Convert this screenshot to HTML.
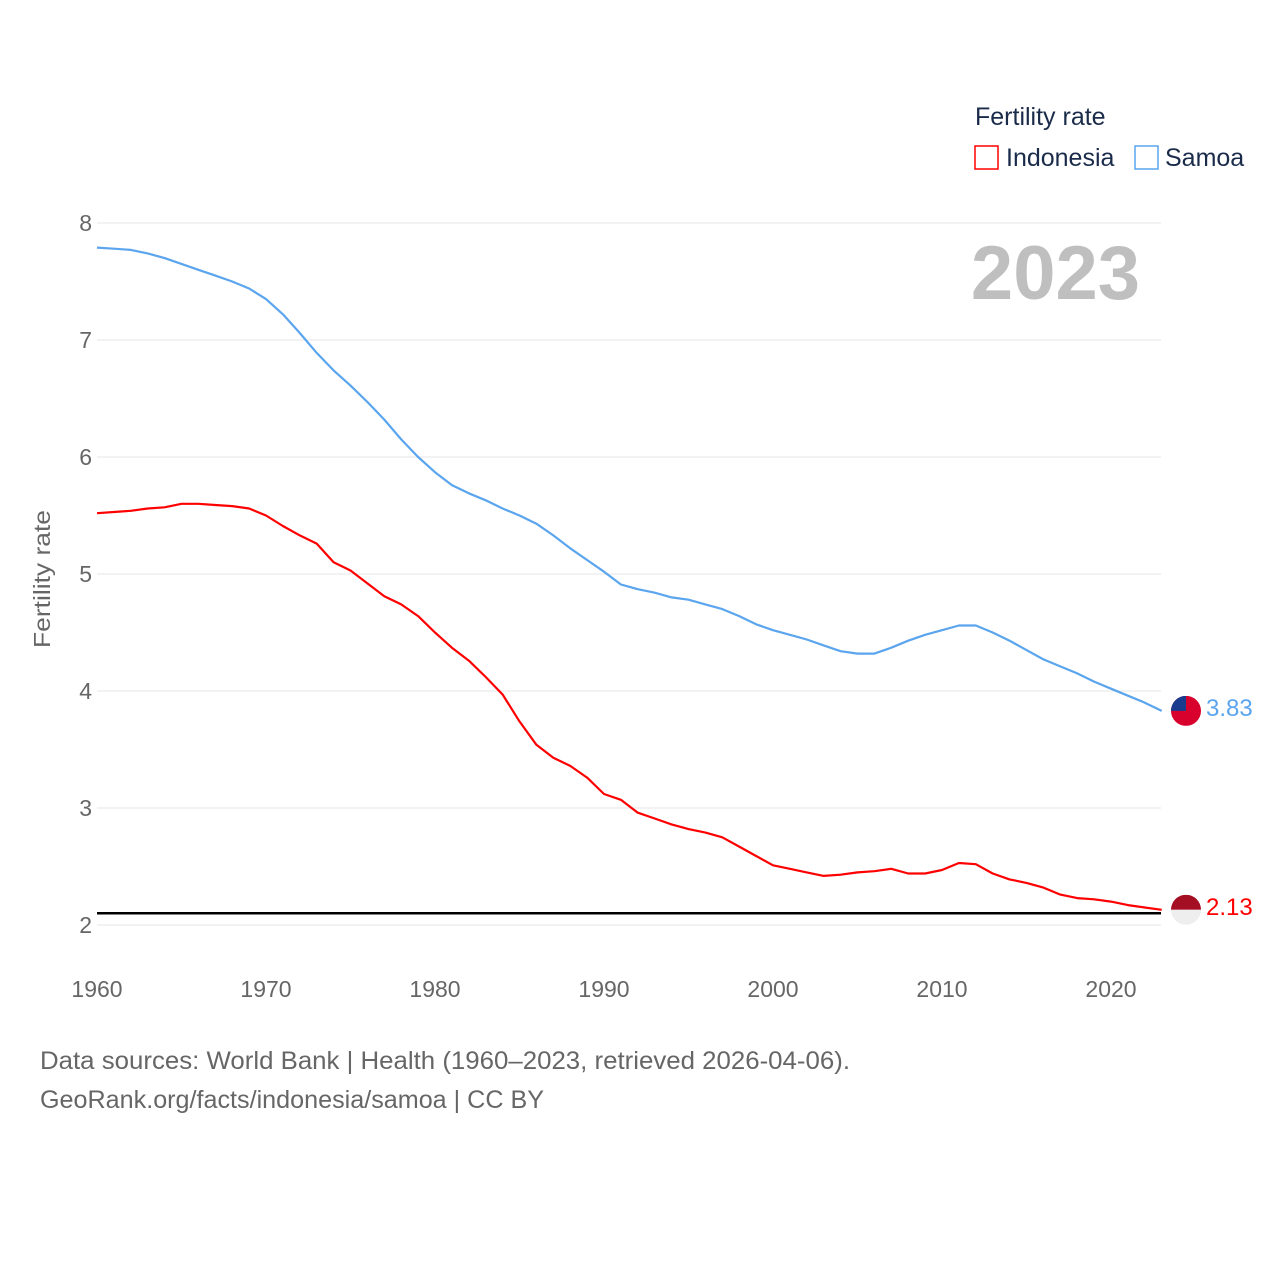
<!DOCTYPE html>
<html><head><meta charset="utf-8"><style>
body{margin:0;background:#fff;width:1280px;height:1280px;overflow:hidden;font-family:"Liberation Sans",sans-serif}
svg text{font-family:"Liberation Sans",sans-serif}
</style></head><body>
<svg id="chart" width="1280" height="1280" xmlns="http://www.w3.org/2000/svg">
<g id="grid"></g>
<g id="xticks"></g>
<g id="yticks"></g>
<text transform="translate(50,579) rotate(-90)" text-anchor="middle" font-size="23" fill="#666" textLength="138" lengthAdjust="spacingAndGlyphs">Fertility rate</text>
<text x="1140" y="299" text-anchor="end" font-size="76" font-weight="bold" fill="#bfbfbf">2023</text>
<g id="series"></g>
<g>
<text x="975" y="125" font-size="25" fill="#1a2b4a">Fertility rate</text>
<rect x="975" y="146" width="23" height="23" fill="none" stroke="#ff0000" stroke-width="1.5"/>
<text x="1006" y="166" font-size="25" fill="#1a2b4a">Indonesia</text>
<rect x="1135" y="146" width="23" height="23" fill="none" stroke="#5aa5ee" stroke-width="1.5"/>
<text x="1165" y="166" font-size="25" fill="#1a2b4a">Samoa</text>
</g>
<text x="40" y="1069" font-size="25" fill="#666" textLength="810" lengthAdjust="spacingAndGlyphs">Data sources: World Bank | Health (1960–2023, retrieved 2026-04-06).</text>
<text x="40" y="1108" font-size="25" fill="#666" textLength="504" lengthAdjust="spacingAndGlyphs">GeoRank.org/facts/indonesia/samoa | CC BY</text>
</svg>
<script>
const years=[];for(let y=1960;y<=2023;y++)years.push(y);
const samoa=[7.79,7.78,7.77,7.74,7.70,7.65,7.60,7.55,7.50,7.44,7.35,7.22,7.06,6.89,6.74,6.61,6.47,6.32,6.15,6.00,5.87,5.76,5.69,5.63,5.56,5.50,5.43,5.33,5.22,5.12,5.02,4.91,4.87,4.84,4.80,4.78,4.74,4.70,4.64,4.57,4.52,4.48,4.44,4.39,4.34,4.32,4.32,4.37,4.43,4.48,4.52,4.56,4.56,4.50,4.43,4.35,4.27,4.21,4.15,4.08,4.02,3.96,3.90,3.83];
const indonesia=[5.52,5.53,5.54,5.56,5.57,5.60,5.60,5.59,5.58,5.56,5.50,5.41,5.33,5.26,5.10,5.03,4.92,4.81,4.74,4.64,4.50,4.37,4.26,4.12,3.97,3.74,3.54,3.43,3.36,3.26,3.12,3.07,2.96,2.91,2.86,2.82,2.79,2.75,2.67,2.59,2.51,2.48,2.45,2.42,2.43,2.45,2.46,2.48,2.44,2.44,2.47,2.53,2.52,2.44,2.39,2.36,2.32,2.26,2.23,2.22,2.20,2.17,2.15,2.13];
const yTicks=[2,3,4,5,6,7,8];
const xTicks=[1960,1970,1980,1990,2000,2010,2020];
const replacement=2.1;
const NS="http://www.w3.org/2000/svg";
const xs=y=>97+(y-1960)*(1014/60);
const ys=v=>925-(v-2)*117;
function mk(tag,attrs,parent){const e=document.createElementNS(NS,tag);for(const k in attrs)e.setAttribute(k,attrs[k]);parent.appendChild(e);return e;}
const grid=document.getElementById('grid'),xt=document.getElementById('xticks'),yt=document.getElementById('yticks'),ser=document.getElementById('series');
yTicks.forEach(v=>{
 const l=mk('line',{x1:97,x2:1161,y1:ys(v),y2:ys(v),stroke:'#e6e6e6','stroke-width':1},grid);
 
 
 const t=mk('text',{x:92,y:ys(v)+8,'text-anchor':'end','font-size':23,fill:'#666'},yt);
 t.textContent=v;
 
 
});
xTicks.forEach(v=>{
 const t=mk('text',{x:xs(v),y:997,'text-anchor':'middle','font-size':23,fill:'#666'},xt);
 t.textContent=v;
 
 
});
const rl=mk('line',{x1:97,x2:1161,y1:ys(replacement),y2:ys(replacement),stroke:'#000','stroke-width':2.5},ser);


function line(data,color,name){
 const d=data.map((v,i)=>(i?'L':'M')+xs(years[i]).toFixed(1)+','+ys(v).toFixed(1)).join('');
 const p=mk('path',{d:d,fill:'none',stroke:color,'stroke-width':2.2,'stroke-linejoin':'round'},ser);
 
 
 const last=data[data.length-1];
 const cx=1186,cy=ys(last);
 const g=mk('g',{},ser);
 
 
 const cid='clip-'+name;
 const cp=mk('clipPath',{id:cid},g);mk('circle',{cx:cx,cy:cy,r:15},cp);
 const gg=mk('g',{'clip-path':'url(#'+cid+')'},g);
 if(name==='indonesia'){
  mk('rect',{x:cx-15,y:cy-15,width:30,height:15,fill:'#a50f23'},gg);
  mk('rect',{x:cx-15,y:cy,width:30,height:15,fill:'#eeeeee'},gg);
 }else{
  mk('rect',{x:cx-15,y:cy-15,width:30,height:30,fill:'#d8002c'},gg);
  mk('rect',{x:cx-15,y:cy-15,width:15,height:15,fill:'#1a3c8f'},gg);
 }
 const t=mk('text',{x:1206,y:cy+5,'font-size':24,fill:color},ser);
 t.textContent=last.toFixed(2);
 
 
}
line(samoa,'#5aa5ee','samoa');
line(indonesia,'#ff0000','indonesia');
</script>
</body></html>
